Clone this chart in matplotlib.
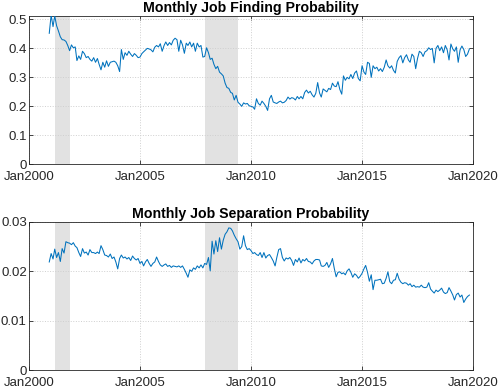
import matplotlib
matplotlib.use("Agg")
import matplotlib.pyplot as plt
import matplotlib.dates as mdates
import pandas as pd

# monthly series, Dec 2000 - Nov 2019
start_month = "2000-12-01"

job_finding = [
    0.452, 0.515, 0.475, 0.512, 0.478, 0.460, 0.440, 0.430, 0.429, 0.424,
    0.410, 0.392, 0.412, 0.402, 0.405, 0.358, 0.374, 0.362, 0.390, 0.382,
    0.368, 0.372, 0.362, 0.356, 0.368, 0.352, 0.365, 0.345, 0.326, 0.352,
    0.335, 0.357, 0.338, 0.352, 0.354, 0.356, 0.352, 0.340, 0.320, 0.396,
    0.362, 0.385, 0.376, 0.390, 0.380, 0.372, 0.382, 0.376, 0.368, 0.370,
    0.382, 0.388, 0.394, 0.400, 0.398, 0.395, 0.388, 0.404, 0.410, 0.405,
    0.416, 0.390, 0.410, 0.422, 0.410, 0.420, 0.412, 0.428, 0.435, 0.430,
    0.390, 0.428, 0.412, 0.383, 0.418, 0.410, 0.422, 0.405, 0.418, 0.390,
    0.418, 0.405, 0.410, 0.370, 0.372, 0.402, 0.385, 0.362, 0.366, 0.345,
    0.330, 0.338, 0.318, 0.312, 0.305, 0.280, 0.265, 0.262, 0.248, 0.245,
    0.222, 0.238, 0.214, 0.208, 0.200, 0.212, 0.208, 0.210, 0.202, 0.200,
    0.198, 0.190, 0.226, 0.210, 0.204, 0.218, 0.210, 0.200, 0.186, 0.226,
    0.238, 0.215, 0.212, 0.210, 0.215, 0.218, 0.212, 0.214, 0.220, 0.232,
    0.225, 0.230, 0.228, 0.222, 0.234, 0.226, 0.234, 0.226, 0.248, 0.256,
    0.246, 0.252, 0.240, 0.232, 0.245, 0.282, 0.246, 0.232, 0.260, 0.255,
    0.250, 0.262, 0.258, 0.280, 0.270, 0.268, 0.285, 0.258, 0.242, 0.305,
    0.290, 0.300, 0.295, 0.310, 0.296, 0.315, 0.322, 0.296, 0.288, 0.340,
    0.318, 0.310, 0.352, 0.348, 0.300, 0.340, 0.330, 0.335, 0.322, 0.330,
    0.320, 0.335, 0.360, 0.340, 0.332, 0.340, 0.324, 0.315, 0.355, 0.368,
    0.375, 0.350, 0.368, 0.378, 0.360, 0.352, 0.380, 0.372, 0.330, 0.365,
    0.390, 0.385, 0.372, 0.388, 0.392, 0.402, 0.396, 0.400, 0.350, 0.400,
    0.410, 0.392, 0.405, 0.385, 0.410, 0.395, 0.360, 0.415, 0.398, 0.390,
    0.405, 0.352, 0.395, 0.408, 0.396, 0.372, 0.380, 0.398,
]

job_separation = [
    0.0219, 0.0236, 0.0225, 0.0245, 0.0228, 0.0238, 0.0220, 0.0246, 0.0237, 0.0260,
    0.0258, 0.0257, 0.0254, 0.0258, 0.0251, 0.0248, 0.0238, 0.0230, 0.0246, 0.0237,
    0.0239, 0.0233, 0.0244, 0.0238, 0.0238, 0.0236, 0.0239, 0.0236, 0.0252, 0.0244,
    0.0233, 0.0232, 0.0229, 0.0235, 0.0226, 0.0229, 0.0219, 0.0205, 0.0226, 0.0233,
    0.0227, 0.0229, 0.0225, 0.0228, 0.0222, 0.0231, 0.0226, 0.0223, 0.0226, 0.0216,
    0.0220, 0.0211, 0.0219, 0.0224, 0.0216, 0.0210, 0.0216, 0.0219, 0.0229, 0.0220,
    0.0213, 0.0210, 0.0213, 0.0215, 0.0210, 0.0212, 0.0208, 0.0211, 0.0210, 0.0209,
    0.0211, 0.0208, 0.0211, 0.0204, 0.0196, 0.0188, 0.0203, 0.0200, 0.0207, 0.0204,
    0.0211, 0.0207, 0.0213, 0.0207, 0.0216, 0.0214, 0.0228, 0.0201, 0.0261, 0.0235,
    0.0262, 0.0240, 0.0268, 0.0245, 0.0263, 0.0275, 0.0280, 0.0288, 0.0287, 0.0282,
    0.0273, 0.0266, 0.0260, 0.0245, 0.0250, 0.0272, 0.0252, 0.0244, 0.0246, 0.0242,
    0.0236, 0.0238, 0.0234, 0.0232, 0.0238, 0.0228, 0.0238, 0.0227, 0.0232, 0.0234,
    0.0228, 0.0221, 0.0211, 0.0228, 0.0244, 0.0246, 0.0228, 0.0221, 0.0227, 0.0225,
    0.0228, 0.0222, 0.0212, 0.0224, 0.0219, 0.0227, 0.0217, 0.0224, 0.0221, 0.0226,
    0.0220, 0.0219, 0.0215, 0.0221, 0.0224, 0.0224, 0.0223, 0.0211, 0.0210, 0.0212,
    0.0218, 0.0208, 0.0215, 0.0226, 0.0206, 0.0189, 0.0198, 0.0199, 0.0195, 0.0197,
    0.0193, 0.0201, 0.0205, 0.0198, 0.0188, 0.0195, 0.0192, 0.0186, 0.0190, 0.0196,
    0.0205, 0.0212, 0.0198, 0.0180, 0.0193, 0.0163, 0.0182, 0.0182, 0.0183, 0.0184,
    0.0175, 0.0176, 0.0186, 0.0199, 0.0179, 0.0175, 0.0182, 0.0183, 0.0196, 0.0184,
    0.0178, 0.0175, 0.0177, 0.0176, 0.0172, 0.0175, 0.0169, 0.0172, 0.0168, 0.0169,
    0.0168, 0.0172, 0.0168, 0.0167, 0.0168, 0.0177, 0.0164, 0.0160, 0.0156, 0.0162,
    0.0159, 0.0162, 0.0166, 0.0158, 0.0155, 0.0157, 0.0167, 0.0160, 0.0152, 0.0142,
    0.0153, 0.0156, 0.0148, 0.0152, 0.0137, 0.0144, 0.0149, 0.0152,
]

recessions = [("2001-03-01", "2001-11-01"), ("2007-12-01", "2009-06-01")]
tick_years = [2000, 2005, 2010, 2015, 2020]

dates = pd.date_range(start_month, periods=len(job_finding), freq="MS")

plt.rcParams["font.family"] = ["Liberation Sans", "DejaVu Sans"]
plt.rcParams["font.size"] = 9.5

AX_COLOR = "#262626"
LINE_COLOR = "#0072BD"

fig = plt.figure(figsize=(4.98, 3.88), dpi=100)
ax1 = fig.add_axes([0.058, 0.5765, 0.892, 0.3825])
ax2 = fig.add_axes([0.058, 0.046, 0.892, 0.382])


def style_axis(ax, series, title, ylim, yticks, ylabels):
    for a, b in recessions:
        ax.axvspan(pd.Timestamp(a), pd.Timestamp(b), color="#e2e2e2", lw=0, zorder=0)
    ax.plot(dates, series, color=LINE_COLOR, lw=0.75, zorder=3)
    ax.set_xlim(pd.Timestamp("2000-01-01"), pd.Timestamp("2020-01-01"))
    ax.set_ylim(*ylim)
    ax.set_xticks([pd.Timestamp(f"{y}-01-01") for y in tick_years])
    ax.xaxis.set_major_formatter(mdates.DateFormatter("%b%Y"))
    ax.set_yticks(yticks)
    ax.set_yticklabels(ylabels)
    ax.grid(True, linestyle=":", color="#cfcfcf", lw=0.7)
    ax.set_axisbelow(True)
    ax.tick_params(direction="in", top=True, right=True, length=3,
                   colors=AX_COLOR, labelsize=9.5, width=0.6)
    ax.tick_params(axis="x", pad=5)
    ax.tick_params(axis="y", pad=1.5)
    for s in ax.spines.values():
        s.set_color(AX_COLOR)
        s.set_linewidth(0.6)
    ax.set_title(title, fontweight="bold", fontsize=10.2, pad=3, color="black")


style_axis(ax1, job_finding, "Monthly Job Finding Probability",
           (0, 0.512), [0, 0.1, 0.2, 0.3, 0.4, 0.5],
           ["0", "0.1", "0.2", "0.3", "0.4", "0.5"])
style_axis(ax2, job_separation, "Monthly Job Separation Probability",
           (0, 0.03), [0, 0.01, 0.02, 0.03],
           ["0", "0.01", "0.02", "0.03"])

fig.savefig("out.png", dpi=100)
